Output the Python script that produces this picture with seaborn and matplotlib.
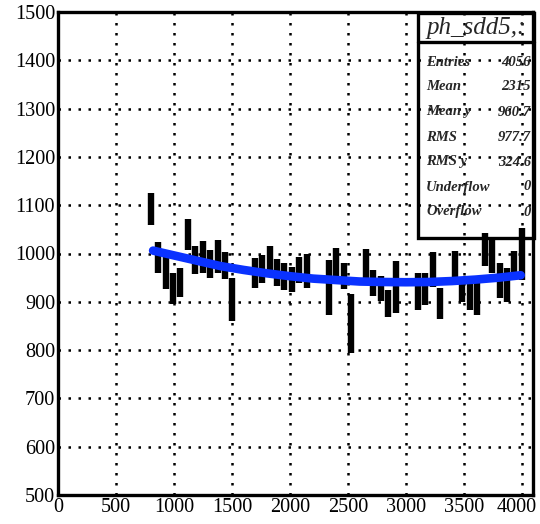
import numpy as np
import matplotlib
matplotlib.use("Agg")
import matplotlib.pyplot as plt
import matplotlib.transforms as mtransforms
from matplotlib.ticker import MultipleLocator
from matplotlib.patches import Rectangle
from matplotlib.lines import Line2D
import seaborn as sns

# profile bins (bin centre, mean, error)
bin_x = [800, 864, 928, 992, 1056, 1120, 1184, 1248, 1312, 1376, 1440, 1504,
         1696, 1760, 1824, 1888, 1952, 2016, 2080, 2144,
         2336, 2400, 2464, 2528, 2656, 2720, 2784, 2848, 2912,
         3104, 3168, 3232, 3296, 3424, 3488, 3552, 3616, 3680, 3744,
         3808, 3872, 3936, 4000]
bin_mean = [1092.5, 992, 959, 927.5, 940, 1039.5, 987, 992.5, 978.5, 994, 975, 905,
            959, 967.5, 984, 960.5, 952.5, 946.5, 965, 964,
            930, 974.5, 953, 855, 973.5, 938.5, 928, 896, 930,
            921.5, 926.5, 967.5, 896, 971.5, 926, 912.5, 905.5, 1008.5, 994,
            943.5, 934.5, 975, 998.5]
bin_err = [33.5, 32, 33, 32.5, 31, 32.5, 29, 32.5, 29.5, 34, 28, 44,
           31, 29.5, 32, 27.5, 28.5, 26.5, 27, 36,
           57, 36.5, 27, 62, 35.5, 27.5, 26, 28, 54,
           38.5, 33.5, 36.5, 32, 33.5, 26, 29.5, 32.5, 34.5, 34,
           36.5, 34.5, 30, 53.5]

# fitted curve, points
fit_x = [820, 1000, 1200, 1400, 1600, 1800, 2000, 2200, 2400, 2600, 2800,
         3000, 3200, 3400, 3600, 3800, 3990]
fit_y = [1006, 996, 985, 974, 966, 959, 953, 948, 945, 942, 941,
         940.5, 941, 943, 946, 950, 955]

hist_name = "ph_sdd5,:"
stat_names = ["Entries", "Mean", "Mean y", "RMS", "RMS y", "Underflow", "Overflow"]
stat_values = ["4056", "2315", "960.7", "977.7", "324.6", "0", "0"]

sns.set_style("white")
plt.rcParams['font.family'] = ['Liberation Serif', 'DejaVu Serif']

fig = plt.figure(figsize=(5.4, 5.24), dpi=100)
ax = fig.add_axes([58/540, 1 - 495/524, (533 - 58)/540, (495 - 12)/524])

ax.errorbar(bin_x, bin_mean, yerr=bin_err, fmt='none', ecolor='black',
            elinewidth=4.6, capsize=0, zorder=3)
sns.lineplot(x=fit_x, y=fit_y, ax=ax, color='#0a32ff', linewidth=6.2,
             sort=False, zorder=4)

ax.set_xlim(0, 4096)
ax.set_ylim(500, 1500)
ax.xaxis.set_minor_locator(MultipleLocator(100))
ax.yaxis.set_minor_locator(MultipleLocator(20))
ax.set_xticks(np.arange(0, 4001, 500))
ax.set_yticks(np.arange(500, 1501, 100))

ax.tick_params(which='both', direction='in', top=False, right=False,
               colors='black', labelsize=14.6)
ax.tick_params(which='major', length=12, width=2.4)
ax.tick_params(which='minor', length=6, width=2.4)
ax.tick_params(axis='y', which='major', pad=2)
ax.tick_params(axis='x', which='major', pad=2)

# keep the last x label inside the figure
last = ax.get_xticklabels()[-1]
last.set_transform(last.get_transform() +
                   mtransforms.ScaledTranslation(-5/100, 0, fig.dpi_scale_trans))

for s in ax.spines.values():
    s.set_linewidth(2.4)
    s.set_color('black')

ax.grid(True, which='major', color='black', linestyle=(0, (1, 3)), linewidth=1.8)
ax.set_axisbelow(True)

# stats box
x0, x1 = 418/540, 534/540
yt, yb, ysep = 1 - 13/524, 1 - 238/524, 1 - 42/524
fig.add_artist(Rectangle((x0, yb), x1 - x0, yt - yb, transform=fig.transFigure,
                         fill=False, edgecolor='black', linewidth=2.4, zorder=10))
fig.add_artist(Line2D([x0, x1], [ysep, ysep], transform=fig.transFigure,
                      color='black', linewidth=2.4, zorder=10))
fig.text((x0 + x1)/2, 1 - 28/524, hist_name, ha='center', va='center',
         fontsize=18, style='italic')
for i, (n, v) in enumerate(zip(stat_names, stat_values)):
    yy = 1 - (62 + 25*i)/524
    fig.text(426/540, yy, n, ha='left', va='center', fontsize=10.5,
             style='italic', weight='bold')
    fig.text(531/540, yy, v, ha='right', va='center', fontsize=10.5,
             style='italic', weight='bold')

fig.savefig("out.png", dpi=100)
